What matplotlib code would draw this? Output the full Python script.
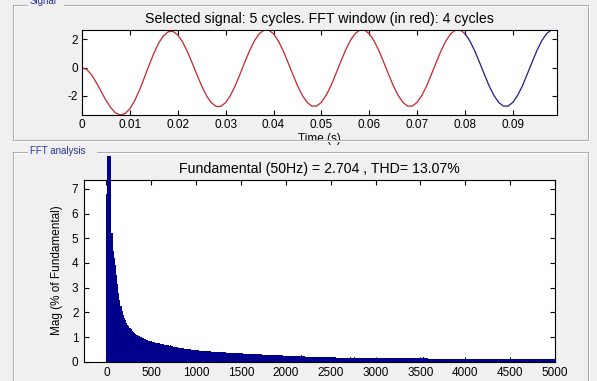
import numpy as np
import matplotlib.pyplot as plt
from matplotlib.lines import Line2D
from matplotlib.transforms import Bbox, TransformedBbox

plt.rcParams.update({
    "font.family": ["Liberation Sans", "DejaVu Sans"],
    "font.size": 8.5,
    "axes.unicode_minus": False,
    "axes.linewidth": 0.8,
    "xtick.direction": "in",
    "ytick.direction": "in",
    "xtick.top": True,
    "ytick.right": True,
    "xtick.major.size": 3.5,
    "ytick.major.size": 3.5,
})

# selected signal, one sample per ms (5 cycles of 50 Hz)
t_step = 0.001
signal = [
    0.00, -0.13, -0.51, -1.06, -1.68, -2.31, -2.83, -3.20, -3.35, -3.25,
    -2.91, -2.34, -1.59, -0.73, 0.16, 1.01, 1.73, 2.25, 2.54, 2.56,
    2.31, 1.82, 1.14, 0.34, -0.50, -1.30, -1.98, -2.48, -2.74, -2.74,
    -2.47, -1.97, -1.28, -0.46, 0.39, 1.20, 1.89, 2.39, 2.65, 2.65,
    2.39, 1.89, 1.20, 0.39, -0.45, -1.27, -1.95, -2.45, -2.72, -2.72,
    -2.45, -1.95, -1.27, -0.45, 0.39, 1.20, 1.89, 2.39, 2.66, 2.66,
    2.39, 1.89, 1.20, 0.39, -0.45, -1.27, -1.95, -2.45, -2.72, -2.72,
    -2.45, -1.95, -1.27, -0.45, 0.39, 1.20, 1.89, 2.39, 2.66, 2.66,
    2.39, 1.89, 1.20, 0.39, -0.45, -1.27, -1.95, -2.45, -2.72, -2.72,
    -2.45, -1.95, -1.27, -0.45, 0.39, 1.20, 1.89, 2.39, 2.66, 2.66,
]
fft_window_end = 0.08  # 4 cycles

# FFT magnitude in % of fundamental, 12.5 Hz bins from 0 to 5000 Hz
f_step = 12.5
mag = [
    6.8, 11.5, 9.4, 8.6, 100.0, 5.2, 4.5, 4.2,
    3.9, 3.5, 3.15, 2.8, 2.5, 2.25, 2.05, 1.9,
    1.78, 1.67, 1.58, 1.5, 1.43, 1.37, 1.31, 1.26,
    1.21, 1.17, 1.13, 1.10, 1.07, 1.04, 1.01, 0.99,
    0.97, 0.95, 0.93, 0.91, 0.89, 0.87, 0.85, 0.83,
    0.82, 0.81, 0.79, 0.78, 0.77, 0.76, 0.75, 0.74,
    0.72, 0.71, 0.71, 0.70, 0.68, 0.67, 0.69, 0.66,
    0.64, 0.66, 0.63, 0.62, 0.61, 0.60, 0.60, 0.58,
    0.57, 0.57, 0.56, 0.55, 0.54, 0.54, 0.53, 0.52,
    0.51, 0.51, 0.50, 0.50, 0.49, 0.48, 0.48, 0.47,
    0.47, 0.46, 0.46, 0.45, 0.45, 0.45, 0.44, 0.44,
    0.44, 0.43, 0.43, 0.42, 0.42, 0.42, 0.41, 0.41,
    0.41, 0.40, 0.40, 0.40, 0.39, 0.39, 0.39, 0.38,
    0.38, 0.38, 0.38, 0.37, 0.37, 0.37, 0.36, 0.36,
    0.36, 0.36, 0.35, 0.35, 0.35, 0.35, 0.34, 0.34,
    0.34, 0.34, 0.33, 0.33, 0.33, 0.33, 0.32, 0.32,
    0.32, 0.32, 0.31, 0.31, 0.31, 0.31, 0.30, 0.30,
    0.30, 0.30, 0.30, 0.29, 0.29, 0.29, 0.29, 0.28,
    0.28, 0.28, 0.28, 0.28, 0.27, 0.27, 0.27, 0.27,
    0.27, 0.26, 0.26, 0.26, 0.26, 0.26, 0.25, 0.25,
    0.25, 0.25, 0.25, 0.24, 0.24, 0.24, 0.24, 0.24,
    0.23, 0.23, 0.23, 0.23, 0.23, 0.22, 0.26, 0.22,
    0.22, 0.22, 0.21, 0.21, 0.21, 0.21, 0.21, 0.21,
    0.20, 0.20, 0.20, 0.20, 0.20, 0.20, 0.19, 0.19,
    0.19, 0.19, 0.19, 0.19, 0.19, 0.18, 0.18, 0.18,
    0.18, 0.18, 0.18, 0.18, 0.18, 0.17, 0.17, 0.17,
    0.17, 0.17, 0.17, 0.17, 0.17, 0.17, 0.16, 0.16,
    0.16, 0.16, 0.21, 0.16, 0.16, 0.20, 0.16, 0.16,
    0.16, 0.15, 0.15, 0.15, 0.15, 0.15, 0.15, 0.15,
    0.15, 0.15, 0.15, 0.15, 0.15, 0.15, 0.15, 0.15,
    0.15, 0.14, 0.14, 0.14, 0.14, 0.14, 0.14, 0.14,
    0.14, 0.14, 0.14, 0.14, 0.14, 0.14, 0.14, 0.14,
    0.14, 0.14, 0.14, 0.14, 0.14, 0.13, 0.13, 0.13,
    0.13, 0.13, 0.13, 0.13, 0.13, 0.13, 0.13, 0.13,
    0.13, 0.13, 0.13, 0.13, 0.13, 0.13, 0.13, 0.13,
    0.13, 0.17, 0.13, 0.18, 0.13, 0.13, 0.16, 0.12,
    0.12, 0.12, 0.12, 0.12, 0.12, 0.12, 0.12, 0.12,
    0.12, 0.12, 0.12, 0.12, 0.12, 0.12, 0.12, 0.12,
    0.12, 0.12, 0.12, 0.12, 0.12, 0.12, 0.12, 0.12,
    0.12, 0.12, 0.12, 0.12, 0.12, 0.12, 0.12, 0.12,
    0.12, 0.12, 0.12, 0.12, 0.12, 0.12, 0.12, 0.12,
    0.12, 0.12, 0.11, 0.11, 0.11, 0.11, 0.11, 0.11,
    0.11, 0.11, 0.11, 0.11, 0.11, 0.11, 0.11, 0.11,
    0.11, 0.11, 0.11, 0.11, 0.11, 0.11, 0.11, 0.11,
    0.11, 0.11, 0.11, 0.11, 0.11, 0.11, 0.11, 0.11,
    0.11, 0.11, 0.11, 0.11, 0.11, 0.11, 0.11, 0.11,
    0.11, 0.11, 0.11, 0.10, 0.10, 0.10, 0.10, 0.10,
    0.10, 0.10, 0.10, 0.10, 0.10, 0.10, 0.10, 0.10,
    0.10, 0.10, 0.10, 0.10, 0.10, 0.10, 0.10, 0.10,
    0.10, 0.10, 0.10, 0.10, 0.10, 0.10, 0.10, 0.10,
    0.10,
]
fundamental = 2.704
thd = 13.07

W, H = 597, 381
BG = "#f0f0f0"
PANEL_TXT = "#27359a"
BAR = "#00008b"

fig = plt.figure(figsize=(W / 100, H / 100), dpi=100, facecolor=BG)


def fx(x):
    return x / W


def fy(y):
    return 1 - y / H


def etched(x0, y0, x1, y1):
    # gray line with a white highlight, like a uipanel border
    fig.add_artist(Line2D([fx(x0), fx(x1)], [fy(y0), fy(y1)], color="#a9a9a9", lw=0.8))
    fig.add_artist(Line2D([fx(x0 + 1), fx(x1 + 1)], [fy(y0 + 1), fy(y1 + 1)], color="white", lw=0.8))


# --- panel frames ---
etched(13, 5, 27, 5)
etched(64, 5, 588, 5)
etched(13, 5, 13, 140)
etched(588, 5, 588, 140)
etched(13, 140, 588, 140)
fig.text(fx(30), fy(1), "Signal", color=PANEL_TXT, fontsize=7, va="center", ha="left")

etched(13, 152, 27, 152)
etched(97, 152, 588, 152)
etched(13, 152, 13, 385)
etched(588, 152, 588, 385)
fig.text(fx(30), fy(151), "FFT analysis", color=PANEL_TXT, fontsize=7, va="center", ha="left")

# --- signal axes ---
ax1 = fig.add_axes([fx(82), fy(115), fx(557) - fx(82), fy(30) - fy(115)])
t = np.arange(len(signal)) * t_step
sig = np.array(signal)
last = np.count_nonzero(t <= fft_window_end + 1e-9)
ax1.plot(t[:last], sig[:last], color="#c8242c", lw=0.9)
ax1.plot(t[last - 1:], sig[last - 1:], color="#1c1c8c", lw=0.9)
ax1.set_xlim(0, 0.0992)
ax1.set_ylim(-3.35, 2.66)
ax1.set_xticks(np.arange(0, 0.095, 0.01))
ax1.set_xticklabels(["0"] + [f"{v:.2f}" for v in np.arange(0.01, 0.095, 0.01)])
ax1.set_yticks([-2, 0, 2])
ax1.tick_params(pad=3)
ax1.set_xlabel("Time (s)", labelpad=1)
ax1.set_title("Selected signal: 5 cycles. FFT window (in red): 4 cycles", pad=5)

# --- FFT axes ---
ax2 = fig.add_axes([fx(84), fy(361.7), fx(555) - fx(84), fy(179.5) - fy(361.7)])
freq = np.arange(len(mag)) * f_step
bars = ax2.bar(freq, mag, width=f_step, color=BAR, edgecolor="none",
               antialiased=False, zorder=3)
# bars run past the axes top but stay inside the panel
panel_box = TransformedBbox(Bbox.from_extents(fx(14), fy(381), fx(587), fy(156)), fig.transFigure)
for b in bars:
    b.set_clip_box(panel_box)
ax2.set_xlim(-250, 5000)
ax2.set_ylim(0, 7.38)
ax2.set_xticks(np.arange(0, 5001, 500))
ax2.set_yticks(range(0, 8))
ax2.tick_params(pad=4)
ax2.set_ylabel("Mag (% of Fundamental)", labelpad=6)
ax2.set_xlabel("Frequency (Hz)", labelpad=1)
ax2.set_title(f"Fundamental (50Hz) = {fundamental} , THD= {thd}%", pad=5)

fig.savefig("out.png", dpi=100, facecolor=BG)
